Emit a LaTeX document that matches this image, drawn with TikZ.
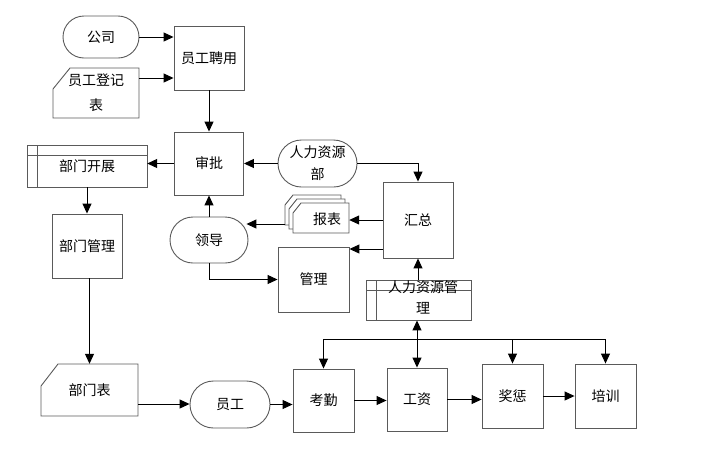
\documentclass[tikz,border=0pt]{standalone}
\usepackage{fontspec}
\newfontfamily\cjk{Noto Sans CJK SC}
\usetikzlibrary{arrows.meta,shapes.misc}
\definecolor{boxc}{RGB}{90,90,90}
\tikzset{
  every node/.style={font=\cjk\fontsize{14}{22}\selectfont, inner sep=0pt, align=center},
  box/.style={draw=boxc, line width=0.9pt, fill=white},
  term/.style={rounded rectangle, draw=boxc, line width=0.9pt, fill=white},
  boxline/.style={draw=boxc, line width=0.9pt},
  arr/.style={draw=black, line width=1pt, -{Triangle[length=10pt,width=9pt]}},
  dblarr/.style={draw=black, line width=1pt, {Triangle[length=10pt,width=9pt]}-{Triangle[length=10pt,width=9pt]}},
  ln/.style={draw=black, line width=1pt},
}
\begin{document}
\begin{tikzpicture}[x=1pt,y=-1pt]
\useasboundingbox (0,0) rectangle (723,448);

% top
\node[term, minimum width=76pt, minimum height=42pt] (gs) at (101,37) {公司};
\node[box, minimum width=70pt, minimum height=64pt] (yp) at (209,58) {员工聘用};
\draw[box] (53,89) -- (70,68) -- (139,68) -- (139,118) -- (53,118) -- cycle;
\node[minimum width=86pt, minimum height=50pt, font=\cjk\fontsize{14}{25}\selectfont] (dj) at (96,93) {员工登记\\表};

% middle
\node[box, minimum width=69pt, minimum height=63pt] (sp) at (209,163.5) {审批};
\draw[box] (27,145) rectangle (147,187);
\draw[boxline] (27,155) -- (147,155) (37,145) -- (37,187);
\node[minimum width=120pt, minimum height=42pt] (bk) at (87,166) {部门开展};
\node[term, minimum width=79pt, minimum height=47pt] (rb) at (317.5,163.5) {人力资源\\部};
\node[box, minimum width=70pt, minimum height=76pt] (hz) at (418,220) {汇总};
\foreach \d in {8,4,0}{
  \draw[box] ({293-\d},{213-\d}) -- ({301-\d},{203-\d}) -- ({349-\d},{203-\d}) -- ({349-\d},{233-\d}) -- ({293-\d},{233-\d}) -- cycle;
}
\node[minimum width=44pt, minimum height=30pt] (bb) at (327,219) {报表};
\coordinate (bbl) at (285,224);
\node[term, minimum width=78pt, minimum height=46pt] (ld) at (209,240) {领导};
\node[box, minimum width=71pt, minimum height=65pt] (gl) at (313.5,279.5) {管理};
\node[box, minimum width=105pt, minimum height=40pt] (rg) at (418.5,300) {};
\draw[boxline] (366,290) -- (471,290) (376,280) -- (376,320);
\node[font=\cjk\fontsize{14}{21}\selectfont] (rgt) at (423,297.5) {人力资源管\\理};
\node[box, minimum width=70pt, minimum height=64pt] (bg) at (87,246) {部门管理};

% bottom
\draw[box] (41,386) -- (58,364) -- (138,364) -- (138,416) -- (41,416) -- cycle;
\node[minimum width=97pt, minimum height=52pt] (bmb) at (89.5,390) {部门表};
\node[term, minimum width=80pt, minimum height=47pt] (yg) at (230,404.5) {员工};
\node[box, minimum width=61pt, minimum height=63pt] (kq) at (323.5,400.5) {考勤};
\node[box, minimum width=60pt, minimum height=63pt] (gz) at (417,399.5) {工资};
\node[box, minimum width=61pt, minimum height=64pt] (jc) at (512.5,396) {奖惩};
\node[box, minimum width=61pt, minimum height=64pt] (px) at (605.5,396) {培训};

% connectors
\draw[arr] (gs.east) -- (gs.east -| yp.west);
\draw[arr] ([yshift=15pt]dj.east) -- ([yshift=15pt]dj.east -| yp.west);
\draw[arr] (yp.south) -- (sp.north);
\draw[arr] (sp.west) -- (sp.west -| bk.east);
\draw[arr] (rb.west) -- (rb.west -| sp.east);
\draw[arr] (rb.east) -| (hz.north);
\draw[arr] (hz.west) -- (hz.west -| bb.east);
\draw[arr] ([yshift=-29pt]hz.west) -- ([yshift=-29pt]hz.west -| gl.east);
\draw[arr] (bbl) -- ([xshift=-2pt]bbl -| ld.east);
\draw[arr] (ld.north) -- (sp.south);
\draw[arr] (ld.south) |- (gl.west);
\draw[arr] (rg.north -| hz.south) -- (hz.south);
\draw[arr] (bk.south) -- (bg.north);
\draw[arr] (bg.south -| bmb.north) -- (bmb.north);
\draw[arr] ([yshift=-14pt]bmb.east) -- ([yshift=-14pt]bmb.east -| yg.west);
\draw[arr] (yg.east) -- (yg.east -| kq.west);
\draw[arr] (kq.east) -- (kq.east -| gz.west);
\draw[arr] (gz.east) -- (gz.east -| jc.west);
\draw[arr] (jc.east) -- (px.west);
\coordinate (busy) at (0,339);
\draw[ln] (kq.north |- busy) -- (px.north |- busy);
\draw[arr] (kq.north |- busy) -- (kq.north);
\draw[arr] (jc.north |- busy) -- (jc.north);
\draw[arr] (px.north |- busy) -- (px.north);
\draw[dblarr] (gz.north |- rg.south) -- (gz.north);
\end{tikzpicture}
\end{document}
